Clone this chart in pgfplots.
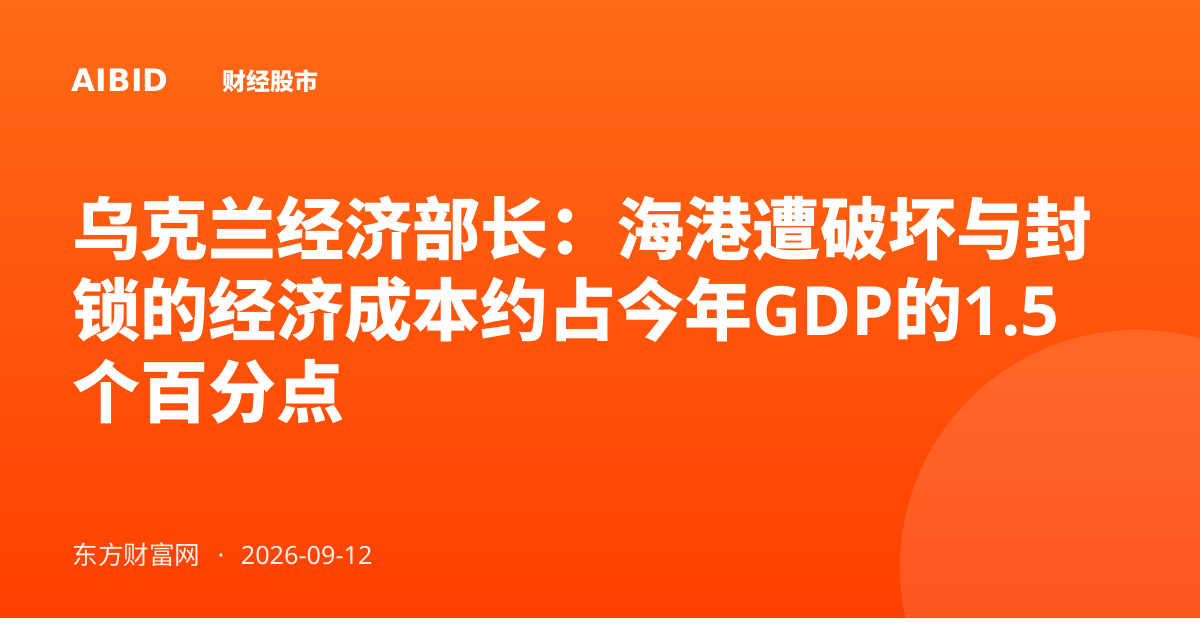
\documentclass[border=0pt]{standalone}
\usepackage{pgfplots}
\pgfplotsset{compat=1.18}
\usepackage{fontspec}
\setmainfont{Noto Sans}
\newfontfamily\cjk{Noto Sans CJK SC}
\newfontfamily\dejavu{DejaVu Sans}
\newfontfamily\opensans{Open Sans}
\definecolor{bgtop}{RGB}{255,106,22}
\definecolor{bgbot}{RGB}{255,64,0}
\begin{document}
\begin{tikzpicture}
\begin{axis}[scale only axis, width=600pt, height=315pt,
  xmin=0, xmax=1200, ymin=0, ymax=630, hide axis, clip=false]
\addplot[draw=none] coordinates {(0,0) (1200,630)};
\fill[white] (axis cs:0,0) rectangle (axis cs:1200,630);
\shade[top color=bgtop, bottom color=bgbot] (axis cs:0,12) rectangle (axis cs:1200,630);
\begin{scope}
\clip (axis cs:0,12) rectangle (axis cs:1200,630);
\fill[white, fill opacity=0.12] (axis cs:1137,63) circle [radius=118.5pt];
\end{scope}
% header
\node[anchor=base west, inner sep=0, text=white] at (axis cs:71.5,538)
  {\fontsize{15.5}{18}\selectfont\dejavu\bfseries AIBID};
\node[anchor=base west, inner sep=0, text=white] at (axis cs:222,539)
  {\fontsize{12}{14}\selectfont\cjk\bfseries 财经股市};
% title
\node[anchor=base west, inner sep=0, text=white] at (axis cs:72,375.5)
  {\fontsize{34}{40}\selectfont\cjk\bfseries 乌克兰经济部长：海港遭破坏与封};
\node[anchor=base west, inner sep=0, text=white] at (axis cs:72,294)
  {\fontsize{34}{40}\selectfont{\cjk\bfseries 锁的经济成本约占今年}{\opensans\bfseries GDP}{\cjk\bfseries 的}{\opensans\bfseries 1.5}};
\node[anchor=base west, inner sep=0, text=white] at (axis cs:72,212.5)
  {\fontsize{34}{40}\selectfont\cjk\bfseries 个百分点};
% footer
\node[anchor=base west, inner sep=0, text=white, text opacity=0.92] at (axis cs:72,65)
  {\fontsize{12.8}{15}\selectfont\cjk 东方财富网};
\node[anchor=base, inner sep=0, text=white, text opacity=0.92] at (axis cs:221,65)
  {\fontsize{12.8}{15}\selectfont ·};
\node[anchor=base west, inner sep=0, text=white, text opacity=0.92] at (axis cs:240.5,65)
  {\fontsize{12.6}{15}\selectfont 2026-09-12};
\end{axis}
\end{tikzpicture}
\end{document}
